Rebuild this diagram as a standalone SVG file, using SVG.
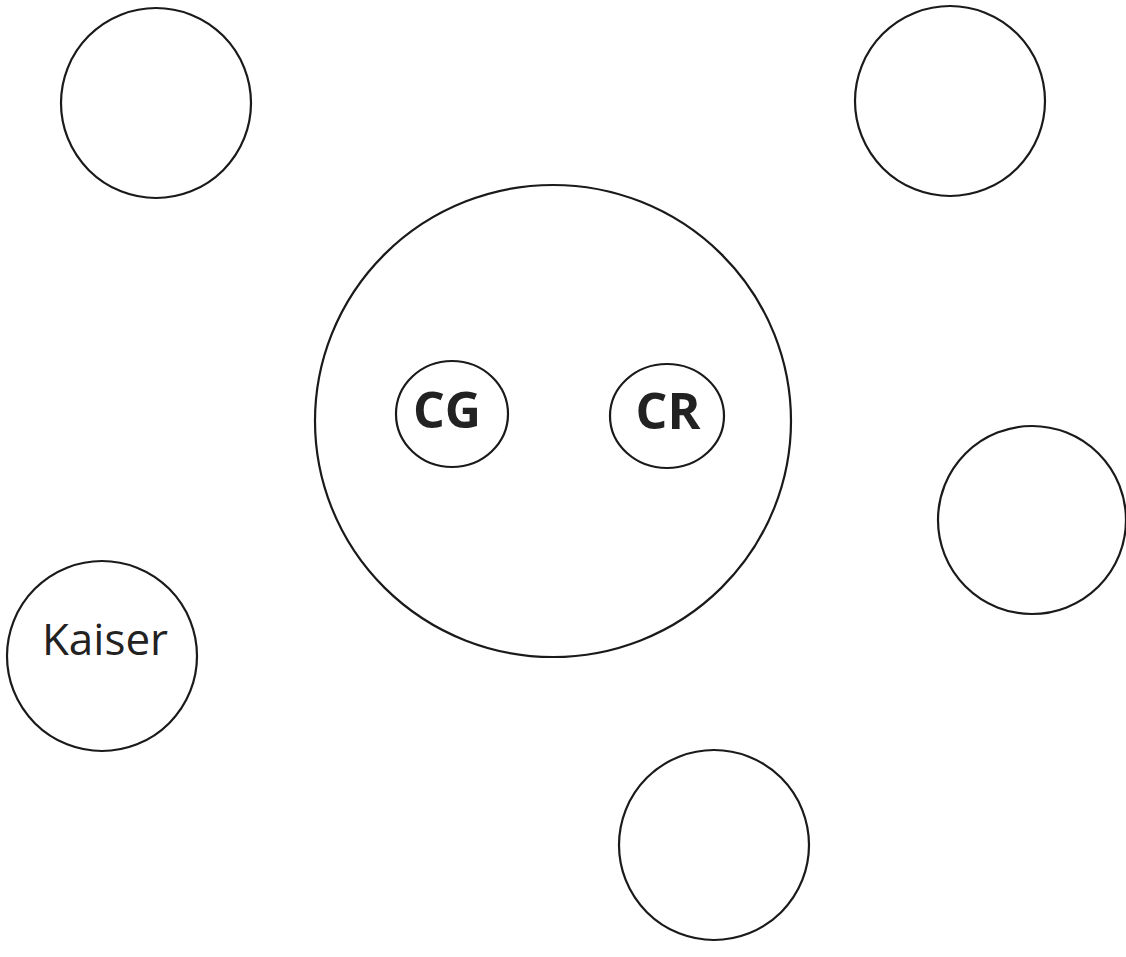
<svg xmlns="http://www.w3.org/2000/svg" width="1126" height="957" viewBox="0 0 1126 957">
<style>
.c{fill:none;stroke:#1a1a1a;stroke-width:2.2}
.lb{font-family:"Open Sans","Liberation Sans",sans-serif;font-weight:bold;font-size:50px;fill:#222;text-anchor:middle}
.lt{font-family:"Open Sans","Liberation Sans",sans-serif;font-size:44px;fill:#222;text-anchor:middle}
</style>
<rect width="1126" height="957" fill="#fff"/>
<g id="top-left"><circle class="c" cx="156" cy="103" r="95"/></g>
<g id="top-right"><circle class="c" cx="950" cy="101" r="95"/></g>
<g id="center"><ellipse class="c" cx="553" cy="421" rx="238" ry="236"/></g>
<g id="cg"><ellipse class="c" cx="452" cy="414" rx="56" ry="53"/><text class="lb" x="447" y="428">CG</text></g>
<g id="cr"><ellipse class="c" cx="667" cy="416" rx="57" ry="52"/><text class="lb" x="668" y="429">CR</text></g>
<g id="right"><circle class="c" cx="1032" cy="520" r="94"/></g>
<g id="kaiser"><circle class="c" cx="102" cy="656" r="95"/><text class="lt" x="105" y="655">Kaiser</text></g>
<g id="bottom"><circle class="c" cx="714" cy="845" r="95"/></g>
<g id="connectors"></g>
</svg>
